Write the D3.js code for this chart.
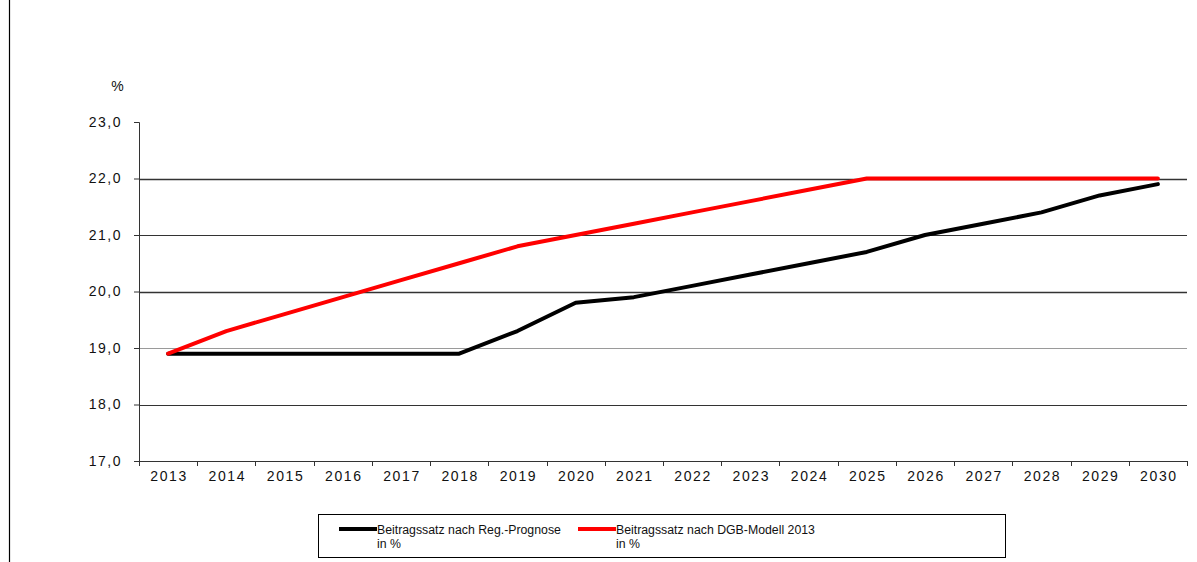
<!DOCTYPE html>
<html><head><meta charset="utf-8">
<script src="https://cdn.jsdelivr.net/npm/d3@7"></script>
<style>body{margin:0;background:#fff}svg{display:block;font-family:"Liberation Sans",Arial,sans-serif}</style>
</head><body><svg id="c" width="1197" height="562"></svg>
<script>
const years = ["2013","2014","2015","2016","2017","2018","2019","2020","2021","2022","2023","2024","2025","2026","2027","2028","2029","2030"];
const regPrognose = [18.9,18.9,18.9,18.9,18.9,18.9,19.3,19.8,19.9,20.1,20.3,20.5,20.7,21.0,21.2,21.4,21.7,21.9];
const dgbModell = [18.9,19.3,19.6,19.9,20.2,20.5,20.8,21.0,21.2,21.4,21.6,21.8,22.0,22.0,22.0,22.0,22.0,22.0];
const yTicks = [17,18,19,20,21,22,23];
const seriesNames = ["Beitragssatz nach Reg.-Prognose", "Beitragssatz nach DGB-Modell 2013"];

const svg = d3.select("#c");
const L = 139, R = 1187, T = 122, B = 461;
const x = d3.scaleBand().domain(years).range([L, R]).padding(0);
const y = d3.scaleLinear().domain([17, 23]).range([B, T]);
const fmt = v => d3.format(".1f")(v).replace(".", ",");

// left border
svg.append("line").attr("x1",9.5).attr("x2",9.5).attr("y1",0).attr("y2",562).attr("stroke","#000").attr("stroke-width",1.2);

// gridlines
svg.append("g").selectAll("line").data(yTicks.filter(v => v > 17 && v < 23)).join("line")
  .attr("x1", L).attr("x2", R)
  .attr("y1", d => Math.round(y(d)) + 0.5).attr("y2", d => Math.round(y(d)) + 0.5)
  .attr("stroke", d => d === 19 ? "#9a9a9a" : "#333").attr("stroke-width", d => (d === 22 || d === 20) ? 1.4 : 1);

// y axis
const yAxis = svg.append("g").attr("transform", `translate(${L},0)`)
  .call(d3.axisLeft(y).tickValues(yTicks).tickFormat(fmt).tickSize(5).tickPadding(12));
yAxis.select(".domain").attr("stroke", "#333");
yAxis.selectAll(".tick line").attr("stroke", "#333");
yAxis.selectAll("text").attr("font-size", 14).attr("fill", "#111").attr("letter-spacing", 1.5)
  .attr("font-family", "Liberation Sans, Arial, sans-serif");

svg.append("text").attr("x", 117.5).attr("y", 91).attr("text-anchor", "middle").attr("font-size", 14).attr("fill", "#111").text("%");

// x axis
svg.append("line").attr("x1", L).attr("x2", R).attr("y1", B + 0.5).attr("y2", B + 0.5).attr("stroke", "#333");
svg.append("g").selectAll("line").data(years.concat(["end"])).join("line")
  .attr("x1", (d, i) => Math.round(L + i * x.bandwidth()) + 0.5)
  .attr("x2", (d, i) => Math.round(L + i * x.bandwidth()) + 0.5)
  .attr("y1", B).attr("y2", B + 5).attr("stroke", "#333");
svg.append("g").selectAll("text").data(years).join("text")
  .attr("x", d => x(d) + x.bandwidth() / 2 + 1).attr("y", B + 20)
  .attr("text-anchor", "middle").attr("font-size", 14).attr("fill", "#111").attr("letter-spacing", 1.6)
  .text(d => d);

// lines
const line = d3.line().x((d, i) => x(years[i]) + x.bandwidth() / 2).y(d => y(d));
svg.append("path").datum(regPrognose).attr("d", line).attr("fill", "none")
  .attr("stroke", "#000").attr("stroke-width", 4).attr("stroke-linejoin", "round").attr("stroke-linecap", "round");
svg.append("path").datum(dgbModell).attr("d", line).attr("fill", "none")
  .attr("stroke", "#ff0000").attr("stroke-width", 4).attr("stroke-linejoin", "round").attr("stroke-linecap", "round");

// legend
const lg = svg.append("g");
lg.append("rect").attr("x", 318.5).attr("y", 514.5).attr("width", 687).attr("height", 43).attr("fill", "none").attr("stroke", "#000").attr("stroke-width", 1);
const items = [{c: "#000", x: 339}, {c: "#ff0000", x: 578}];
items.forEach((it, i) => {
  lg.append("line").attr("x1", it.x).attr("x2", it.x + 38).attr("y1", 529).attr("y2", 529).attr("stroke", it.c).attr("stroke-width", 4);
  lg.append("text").attr("x", it.x + 38).attr("y", 534).attr("font-size", 12.3).attr("fill", "#111").text(seriesNames[i]);
  lg.append("text").attr("x", it.x + 38).attr("y", 548).attr("font-size", 12.3).attr("fill", "#111").text("in %");
});
</script></body></html>
